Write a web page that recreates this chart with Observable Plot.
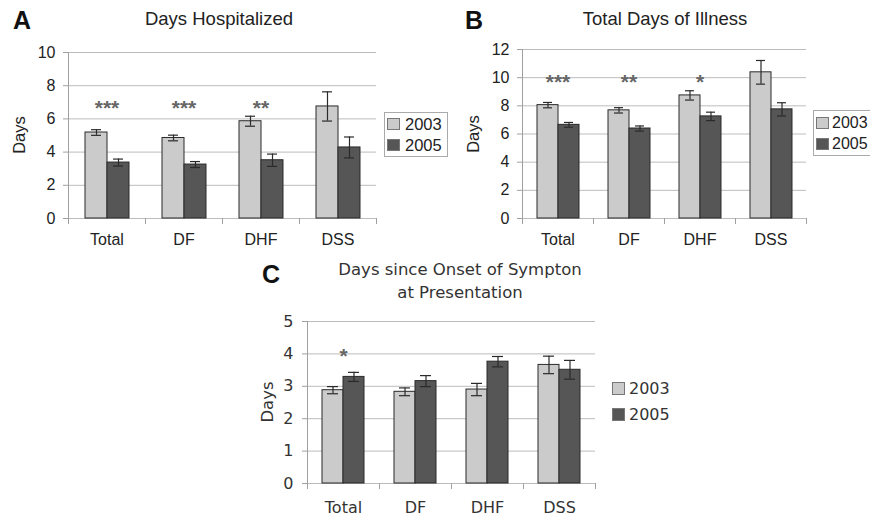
<!DOCTYPE html>
<html>
<head>
<meta charset="utf-8">
<script src="https://cdn.jsdelivr.net/npm/d3@7"></script>
<script src="https://cdn.jsdelivr.net/npm/@observablehq/plot@0.6"></script>
<style>
  html, body { margin: 0; padding: 0; background: #fff; }
  #wrap { position: relative; width: 870px; height: 518px; overflow: hidden; background: #fff; }
  .abs { position: absolute; white-space: nowrap; }
  .ctr { transform: translate(-50%, -50%); line-height: 1; }
  .rot { transform: translate(-50%, -50%) rotate(-90deg); line-height: 1; }
  .arial { font-family: "Liberation Sans", Arial, sans-serif; color: #222; }
  .verd { font-family: "DejaVu Sans", Verdana, sans-serif; color: #333; }
  .sw { position: absolute; box-sizing: border-box; border: 1px solid #777; }
  .lt { position: absolute; line-height: 1; transform: translateY(-50%); }
</style>
</head>
<body>
<div id="wrap"></div>
<script>
// ---- data ----
const categories = ["Total", "DF", "DHF", "DSS"];
const years = ["2003", "2005"];

// A: Days Hospitalized
const hosp2003 = [5.18, 4.85, 5.86, 6.75];
const hosp2003Err = [0.17, 0.17, 0.30, 0.88];
const hosp2005 = [3.37, 3.25, 3.51, 4.28];
const hosp2005Err = [0.21, 0.18, 0.37, 0.63];
const hospStars = ["***", "***", "**", ""];
const hospStarLevel = 7.0;

// B: Total Days of Illness
const ill2003 = [8.05, 7.68, 8.74, 10.38];
const ill2003Err = [0.19, 0.19, 0.33, 0.84];
const ill2005 = [6.65, 6.39, 7.25, 7.75];
const ill2005Err = [0.17, 0.18, 0.30, 0.47];
const illStars = ["***", "**", "*", ""];
const illStarLevel = 10.1;

// C: Days since Onset of Sympton at Presentation
const onset2003 = [2.88, 2.83, 2.90, 3.66];
const onset2003Err = [0.11, 0.12, 0.19, 0.27];
const onset2005 = [3.29, 3.16, 3.76, 3.51];
const onset2005Err = [0.14, 0.17, 0.16, 0.29];
const onsetStars = ["*", "", "", ""];
const onsetStarLevel = 4.1;

const ticksA = [0, 2, 4, 6, 8, 10];
const ticksB = [0, 2, 4, 6, 8, 10, 12];
const ticksC = [0, 1, 2, 3, 4, 5];

const barColors = ["#cbcbcb", "#565656"];

function rows(v03, e03, v05, e05) {
  const out = [];
  categories.forEach((c, i) => {
    out.push({category: c, year: "2003", value: v03[i], err: e03[i]});
    out.push({category: c, year: "2005", value: v05[i], err: e05[i]});
  });
  return out;
}
function starRows(stars, level) {
  return categories.map((c, i) => ({category: c, text: stars[i], y: level}))
    .filter(d => d.text);
}

function panel(o) {
  const data = o.data;
  const fh = o.height - o.marginTop - o.marginBottom;
  const lo = d => d.value - d.err;
  const hi = d => d.value + d.err;
  return Plot.plot({
    width: o.width, height: o.height,
    marginLeft: o.marginLeft, marginRight: o.marginRight,
    marginTop: o.marginTop, marginBottom: o.marginBottom,
    style: {fontFamily: o.font, fontSize: o.fontSize + "px", color: "#222", background: "transparent", overflow: "visible"},
    fx: {domain: categories, padding: 0, label: null},
    x: {domain: years, paddingInner: 0, paddingOuter: o.xPad, axis: null},
    y: {domain: o.yDomain},
    color: {domain: years, range: barColors},
    marks: [
      Plot.gridY(o.ticks, {stroke: "#bcbcbc", strokeOpacity: 1}),
      Plot.frame({anchor: "left", facetAnchor: "left", stroke: "#a0a0a0"}),
      Plot.frame({anchor: "left", stroke: "#a0a0a0", insetTop: fh, insetBottom: -5}),
      Plot.frame({anchor: "right", facetAnchor: "right", stroke: "#a0a0a0", insetTop: fh, insetBottom: -5}),
      Plot.axisY({ticks: o.ticks, tickFormat: d => String(d), tickSize: 5, tickPadding: o.yPad, label: null, stroke: "#a0a0a0", fill: o.textColor}),
      Plot.axisFx({anchor: "bottom", tickSize: 0, tickPadding: o.xLabelPad, label: null, fill: o.textColor}),
      Plot.barY(data, {fx: "category", x: "year", y: "value", fill: "year", stroke: "#2a2a2a", strokeWidth: 1}),
      Plot.ruleX(data, {fx: "category", x: "year", y1: lo, y2: hi, stroke: "#2a2a2a", strokeWidth: 1.2}),
      Plot.tickY(data, {fx: "category", x: "year", y: lo, inset: o.capInset, stroke: "#2a2a2a", strokeWidth: 1.2}),
      Plot.tickY(data, {fx: "category", x: "year", y: hi, inset: o.capInset, stroke: "#2a2a2a", strokeWidth: 1.2}),
      Plot.text(o.stars, {fx: "category", y: "y", text: "text", fontSize: o.starSize, fill: "#666", dy: o.starDy,
        fontFamily: "Liberation Sans", fontWeight: "bold", style: "letter-spacing:1px"})
    ]
  });
}

const wrap = document.getElementById("wrap");
function place(svg, left, top) {
  svg.style.position = "absolute";
  svg.style.left = left + "px";
  svg.style.top = top + "px";
  wrap.appendChild(svg);
}
function label(html, cls, x, y, css) {
  const d = document.createElement("div");
  d.className = "abs " + cls;
  d.style.left = x + "px";
  d.style.top = y + "px";
  if (css) d.style.cssText += css;
  d.innerHTML = html;
  wrap.appendChild(d);
  return d;
}
function swatch(x, y, w, h, color) {
  const s = document.createElement("div");
  s.className = "sw";
  s.style.left = x + "px"; s.style.top = y + "px";
  s.style.width = w + "px"; s.style.height = h + "px";
  s.style.background = color;
  wrap.appendChild(s);
}

// Panel A
place(panel({
  data: rows(hosp2003, hosp2003Err, hosp2005, hosp2005Err),
  stars: starRows(hospStars, hospStarLevel),
  width: 380, height: 260, marginLeft: 68, marginRight: 4, marginTop: 52, marginBottom: 42,
  yDomain: [0, 10], ticks: ticksA, xPad: 0.74, font: "Liberation Sans", fontSize: 16,
  textColor: "#222", yPad: 8, xLabelPad: 15, capInset: 6, starSize: 21, starDy: 6
}), 0, 0);

// Panel B
place(panel({
  data: rows(ill2003, ill2003Err, ill2005, ill2005Err),
  stars: starRows(illStars, illStarLevel),
  width: 370, height: 260, marginLeft: 82, marginRight: 4, marginTop: 49, marginBottom: 42,
  yDomain: [0, 12], ticks: ticksB, xPad: 0.69, font: "Liberation Sans", fontSize: 16,
  textColor: "#222", yPad: 8, xLabelPad: 15, capInset: 6, starSize: 21, starDy: 6
}), 440, 0);

// Panel C
place(panel({
  data: rows(onset2003, onset2003Err, onset2005, onset2005Err),
  stars: starRows(onsetStars, onsetStarLevel),
  width: 370, height: 218, marginLeft: 76, marginRight: 4, marginTop: 21, marginBottom: 35,
  yDomain: [0, 5], ticks: ticksC, xPad: 0.69, font: "DejaVu Sans", fontSize: 16,
  textColor: "#333", yPad: 9, xLabelPad: 18, capInset: 5, starSize: 21, starDy: 6
}), 230, 300);

// Letters and titles
label("A", "arial ctr", 22, 20, "font-size:25px;font-weight:bold;color:#111");
label("B", "arial ctr", 474, 20, "font-size:25px;font-weight:bold;color:#111");
label("C", "arial ctr", 271, 274, "font-size:25px;font-weight:bold;color:#111");
label("Days Hospitalized", "arial ctr", 219, 19, "font-size:18.5px");
label("Total Days of Illness", "arial ctr", 665, 19, "font-size:18.5px");
label("Days since Onset of Sympton", "verd ctr", 460, 270, "font-size:16.5px");
label("at Presentation", "verd ctr", 460, 293, "font-size:16.5px");

// Y labels
label("Days", "arial rot", 19, 135, "font-size:16.5px");
label("Days", "arial rot", 473, 134, "font-size:16.5px");
label("Days", "verd rot", 268, 402, "font-size:16.5px");

// Legend A (boxed)
label("", "", 384, 112, "width:64px;height:45px;box-sizing:border-box;border:1px solid #aaa;background:#fff");
swatch(387, 118, 13, 12, barColors[0]);
swatch(387, 139, 13, 12, barColors[1]);
label(years[0], "arial lt", 405, 124, "font-size:16.5px;transform:translateY(-50%)");
label(years[1], "arial lt", 405, 145, "font-size:16.5px;transform:translateY(-50%)");

// Legend B (boxed, runs to the right edge)
label("", "", 813, 110, "width:70px;height:46px;box-sizing:border-box;border:1px solid #aaa;background:#fff");
swatch(816, 117, 13, 12, barColors[0]);
swatch(816, 138, 13, 12, barColors[1]);
label(years[0], "arial lt", 832, 123, "font-size:16px;transform:translateY(-50%)");
label(years[1], "arial lt", 832, 144, "font-size:16px;transform:translateY(-50%)");

// Legend C (no box)
swatch(612, 382, 13, 13, barColors[0]);
swatch(612, 408, 13, 13, barColors[1]);
label(years[0], "verd lt", 629, 389, "font-size:16px;transform:translateY(-50%)");
label(years[1], "verd lt", 629, 415, "font-size:16px;transform:translateY(-50%)");
</script>
</body>
</html>
